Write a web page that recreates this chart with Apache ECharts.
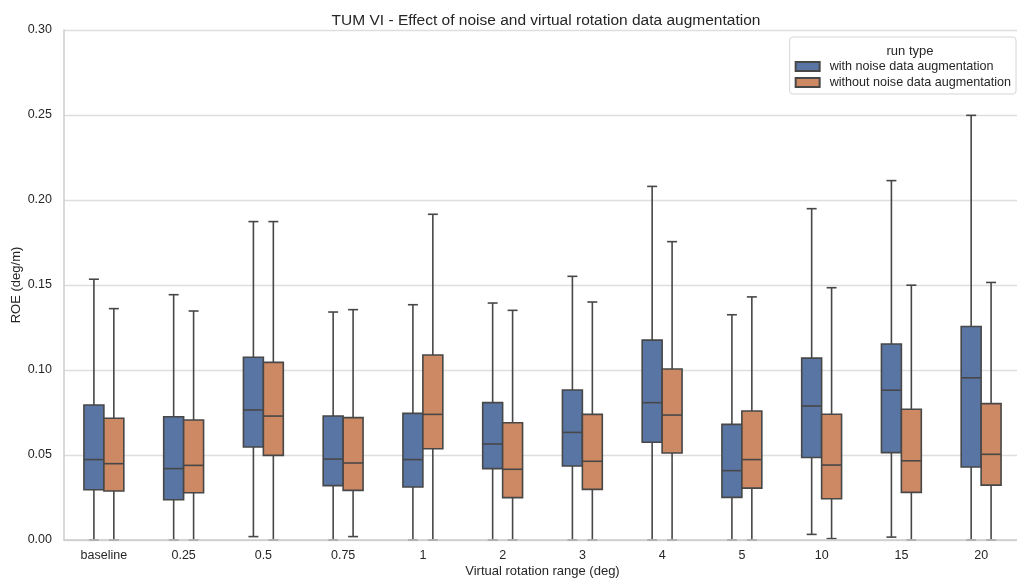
<!DOCTYPE html>
<html>
<head>
<meta charset="utf-8">
<title>TUM VI - Effect of noise and virtual rotation data augmentation</title>
<script src="https://cdn.jsdelivr.net/npm/echarts@6/dist/echarts.min.js"></script>
<style>
	html, body { margin: 0; padding: 0; background: #fff; }
	#chart_div { width: 1017px; height: 578px; }
</style>
</head>
<body>
<div id="chart_div"></div>
<script>
// categories on the x axis
var categories = ['baseline', '0.25', '0.5', '0.75', '1', '2', '3', '4', '5', '10', '15', '20'];

// [min, q1, median, q3, max] per category
var withNoise = [
	[0,      0.0296, 0.0473, 0.0794, 0.1534],
	[0,      0.0237, 0.0420, 0.0725, 0.1443],
	[0.0020, 0.0547, 0.0765, 0.1075, 0.1873],
	[0,      0.0320, 0.0476, 0.0729, 0.1341],
	[0,      0.0312, 0.0473, 0.0745, 0.1384],
	[0,      0.0420, 0.0565, 0.0808, 0.1394],
	[0,      0.0435, 0.0633, 0.0882, 0.1551],
	[0,      0.0575, 0.0808, 0.1176, 0.2080],
	[0,      0.0251, 0.0408, 0.0680, 0.1325],
	[0.0033, 0.0485, 0.0788, 0.1070, 0.1949],
	[0.0017, 0.0514, 0.0881, 0.1153, 0.2114],
	[0,      0.0429, 0.0954, 0.1256, 0.2498]
];
var withoutNoise = [
	[0,      0.0288, 0.0449, 0.0716, 0.1361],
	[0,      0.0278, 0.0439, 0.0706, 0.1347],
	[0,      0.0498, 0.0729, 0.1045, 0.1873],
	[0.0020, 0.0292, 0.0453, 0.0720, 0.1355],
	[0,      0.0537, 0.0739, 0.1088, 0.1916],
	[0,      0.0249, 0.0416, 0.0690, 0.1351],
	[0,      0.0298, 0.0463, 0.0739, 0.1400],
	[0,      0.0512, 0.0735, 0.1006, 0.1755],
	[0,      0.0305, 0.0473, 0.0759, 0.1430],
	[0.0008, 0.0243, 0.0441, 0.0740, 0.1484],
	[0,      0.0280, 0.0466, 0.0769, 0.1499],
	[0,      0.0323, 0.0504, 0.0802, 0.1515]
];
var yTicks = [0, 0.05, 0.10, 0.15, 0.20, 0.25, 0.30];

var seriesNames = ['with noise data augmentation', 'without noise data augmentation'];
var colorList = ['#5975a4', '#cc8963'];
var edgeColor = '#474747';
var fontName = '"Liberation Sans", Arial, sans-serif';

function toRows(list){
	var rows = [];
	for (var i = 0; i < list.length; i++) {
		rows.push([i].concat(list[i]));
	}
	return rows;
}

// draws one box (seaborn style) from the axis scales
function makeBoxRender(shift, fill){
	return function (params, api) {
		var idx = api.value(0);
		var band = api.size([1, 0])[0];
		var cx = api.coord([idx, 0])[0] + shift * band;
		var w = band * 0.25;
		var cap = w / 2;
		var yMin = api.coord([idx, api.value(1)])[1];
		var yQ1 = api.coord([idx, api.value(2)])[1];
		var yMed = api.coord([idx, api.value(3)])[1];
		var yQ3 = api.coord([idx, api.value(4)])[1];
		var yMax = api.coord([idx, api.value(5)])[1];
		var lineStyle = { stroke: edgeColor, lineWidth: 1.6 };
		return {
			type: 'group',
			children: [
				{ type: 'line', shape: { x1: cx, y1: yQ3, x2: cx, y2: yMax }, style: lineStyle },
				{ type: 'line', shape: { x1: cx, y1: yQ1, x2: cx, y2: yMin }, style: lineStyle },
				{ type: 'line', shape: { x1: cx - cap / 2, y1: yMax, x2: cx + cap / 2, y2: yMax }, style: lineStyle },
				{ type: 'line', shape: { x1: cx - cap / 2, y1: yMin, x2: cx + cap / 2, y2: yMin }, style: lineStyle },
				{ type: 'rect', shape: { x: cx - w / 2, y: yQ3, width: w, height: yQ1 - yQ3 },
					style: { fill: fill, stroke: edgeColor, lineWidth: 1.6 } },
				{ type: 'line', shape: { x1: cx - w / 2, y1: yMed, x2: cx + w / 2, y2: yMed }, style: lineStyle }
			]
		};
	};
}

var chart = echarts.init(document.getElementById('chart_div'));

var option = {
	animation: false,
	textStyle: { fontFamily: fontName, color: '#262626' },
	title: [
		{
			text: 'TUM VI - Effect of noise and virtual rotation data augmentation',
			left: 541,
			top: 8,
			textAlign: 'center',
			textStyle: { fontFamily: fontName, fontSize: 15.5, fontWeight: 'normal', color: '#262626' }
		},
		{
			text: 'run type',
			left: 905,
			top: 40,
			textAlign: 'center',
			textStyle: { fontFamily: fontName, fontSize: 13, fontWeight: 'normal', color: '#262626' }
		}
	],
	legend: {
		orient: 'vertical',
		right: 1,
		top: 37,
		padding: [23, 5, 5, 5],
		itemWidth: 24,
		itemHeight: 9,
		itemGap: 3,
		icon: 'rect',
		borderColor: '#d6d6d6',
		borderWidth: 1,
		borderRadius: 3,
		textStyle: { fontFamily: fontName, fontSize: 12.6, color: '#262626', padding: [0, 0, 0, 5] },
		data: seriesNames
	},
	grid: { left: 64, right: -4, top: 30, bottom: 38, outerBoundsMode: 'none', containLabel: false },
	xAxis: {
		type: 'category',
		data: categories,
		z: 10,
		name: 'Virtual rotation range (deg)',
		nameLocation: 'middle',
		nameGap: 25,
		nameMoveOverlap: false,
		nameTextStyle: { fontFamily: fontName, fontSize: 13, color: '#262626' },
		axisTick: { show: false },
		axisLine: { lineStyle: { color: '#cccccc', width: 1.5 } },
		axisLabel: { fontFamily: fontName, fontSize: 12.5, color: '#262626', margin: 9 },
		splitLine: { show: false }
	},
	yAxis: {
		type: 'value',
		min: yTicks[0],
		max: yTicks[yTicks.length - 1],
		interval: 0.05,
		name: 'ROE (deg/m)',
		nameLocation: 'middle',
		nameGap: 41,
		nameMoveOverlap: false,
		nameTextStyle: { fontFamily: fontName, fontSize: 13, color: '#262626' },
		axisTick: { show: false },
		axisLine: { show: true, lineStyle: { color: '#cccccc', width: 1.5 } },
		axisLabel: {
			fontFamily: fontName, fontSize: 12.5, color: '#262626', margin: 12,
			formatter: function (v) { return v.toFixed(2); }
		},
		splitLine: { lineStyle: { color: '#dedede', width: 1.3 } }
	},
	series: [
		{
			name: seriesNames[0],
			type: 'custom',
			renderItem: makeBoxRender(-0.125, colorList[0]),
			itemStyle: { color: colorList[0], borderColor: edgeColor, borderWidth: 1 },
			encode: { x: 0, y: [1, 2, 3, 4, 5] },
			data: toRows(withNoise)
		},
		{
			name: seriesNames[1],
			type: 'custom',
			renderItem: makeBoxRender(0.125, colorList[1]),
			itemStyle: { color: colorList[1], borderColor: edgeColor, borderWidth: 1 },
			encode: { x: 0, y: [1, 2, 3, 4, 5] },
			data: toRows(withoutNoise)
		}
	]
};

chart.setOption(option);
</script>
</body>
</html>
